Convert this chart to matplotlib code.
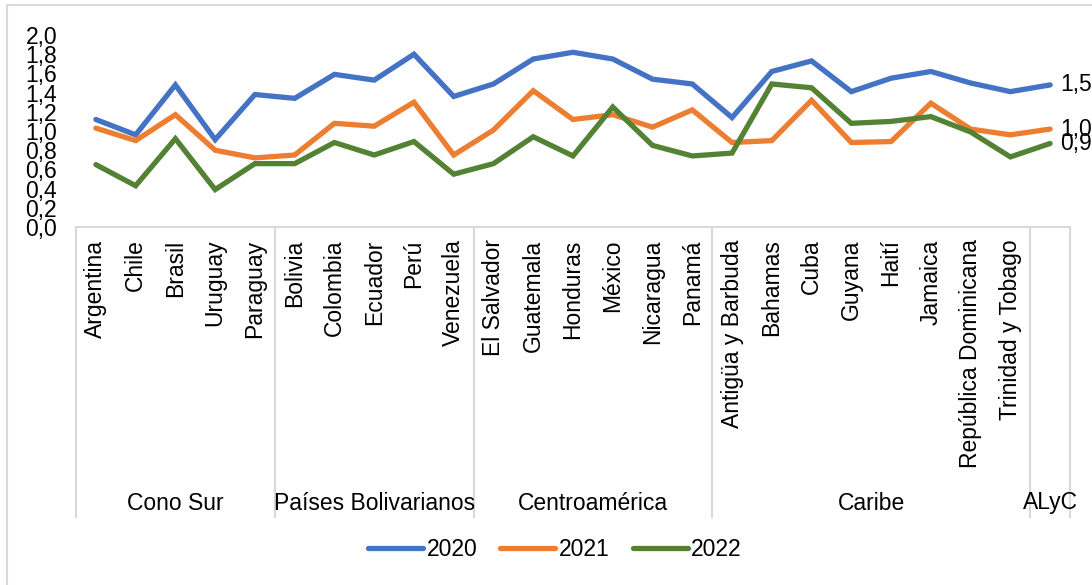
import matplotlib
matplotlib.use("Agg")
import matplotlib.pyplot as plt
from matplotlib.transforms import blended_transform_factory
from matplotlib.lines import Line2D
from matplotlib.patches import Rectangle

plt.rcParams['font.family'] = ['Liberation Sans', 'DejaVu Sans']

countries = ["Argentina", "Chile", "Brasil", "Uruguay", "Paraguay",
             "Bolivia", "Colombia", "Ecuador", "Perú", "Venezuela",
             "El Salvador", "Guatemala", "Honduras", "México", "Nicaragua", "Panamá",
             "Antigüa y Barbuda", "Bahamas", "Cuba", "Guyana", "Haití", "Jamaica",
             "República Dominicana", "Trinidad y Tobago", ""]
groups = ["Cono Sur", "Países Bolivarianos", "Centroamérica", "Caribe", "ALyC"]
group_sizes = [5, 5, 6, 8, 1]

v2020 = [1.12, 0.96, 1.48, 0.91, 1.38, 1.34, 1.59, 1.53, 1.80, 1.36,
         1.49, 1.75, 1.82, 1.75, 1.54, 1.49, 1.14, 1.62, 1.73, 1.41,
         1.55, 1.62, 1.50, 1.41, 1.48]
v2021 = [1.03, 0.90, 1.17, 0.80, 0.72, 0.75, 1.08, 1.05, 1.30, 0.75,
         1.01, 1.42, 1.12, 1.17, 1.04, 1.22, 0.88, 0.90, 1.32, 0.88,
         0.89, 1.29, 1.02, 0.96, 1.02]
v2022 = [0.65, 0.43, 0.92, 0.39, 0.66, 0.66, 0.88, 0.75, 0.89, 0.55,
         0.66, 0.94, 0.74, 1.25, 0.85, 0.74, 0.77, 1.49, 1.45, 1.08,
         1.10, 1.15, 0.99, 0.73, 0.87]
series_names = ["2020", "2021", "2022"]
end_labels = ["1,5", "1,0", "0,9"]
colors = ["#4472C4", "#ED7D31", "#548235"]

W, H = 1092, 585
fig = plt.figure(figsize=(W / 100, H / 100), dpi=100)
ax_l, ax_r, ax_b, ax_t = 76, 1070, 227, 35
ax = fig.add_axes([ax_l / W, 1 - ax_b / H, (ax_r - ax_l) / W, (ax_b - ax_t) / H])

FS = 16.5
x = list(range(len(countries)))
for vals, c, name, lab in zip([v2020, v2021, v2022], colors, series_names, end_labels):
    ax.plot(x, vals, color=c, lw=3.8, solid_capstyle='round', solid_joinstyle='miter', label=name)
    ax.annotate(lab, (x[-1], vals[-1]), xytext=(7, 0), textcoords='offset points',
                va='center', ha='left', fontsize=FS, color='black')

ax.set_xlim(-0.5, len(countries) - 0.5)
ax.set_ylim(0, 2.0)
ax.set_yticks([i / 10 for i in range(0, 21, 2)])
ax.set_yticklabels([f"{i/10:.1f}".replace('.', ',') for i in range(0, 21, 2)], fontsize=FS)
ax.tick_params(axis='y', length=0, pad=13.5)
ax.set_xticks(x)
ax.set_xticklabels(countries, rotation=90, va='top', ha='center', fontsize=FS)
ax.tick_params(axis='x', length=0, pad=9)
for s in ax.spines.values():
    s.set_visible(False)
ax.patch.set_visible(False)

# category box lines
trans = blended_transform_factory(ax.transData, fig.transFigure)
gray = "#D9D9D9"
y_top = 1 - ax_b / H
y_bot = 1 - 517 / H
ax.add_line(Line2D([-0.5, len(countries) - 0.5], [y_top, y_top], transform=trans,
                   color=gray, lw=1.5, clip_on=False))
pos = -0.5
bounds = [pos]
for gsz in group_sizes:
    pos += gsz
    bounds.append(pos)
for b in bounds:
    ax.add_line(Line2D([b, b], [y_top, y_bot], transform=trans, color=gray, lw=1.5, clip_on=False))
for g, a, b in zip(groups, bounds[:-1], bounds[1:]):
    ax.text((a + b) / 2, 1 - 503 / H, g, transform=trans, ha='center', va='center',
            fontsize=FS, color='black')

# legend
handles = [Line2D([], [], color=c, lw=3.8, solid_capstyle='round') for c in colors]
fig.legend(handles, series_names, loc='center', bbox_to_anchor=(555 / W, 1 - 550 / H),
           ncol=3, frameon=False, fontsize=FS, handlelength=2.4, handletextpad=0.15,
           columnspacing=1.0)

# outer border
fig.patches.append(Rectangle((7 / W, -0.1), 1.2, 1 - 5 / H + 0.1, transform=fig.transFigure,
                             fill=False, edgecolor=gray, lw=1.5))

fig.savefig("out.png", dpi=100)
